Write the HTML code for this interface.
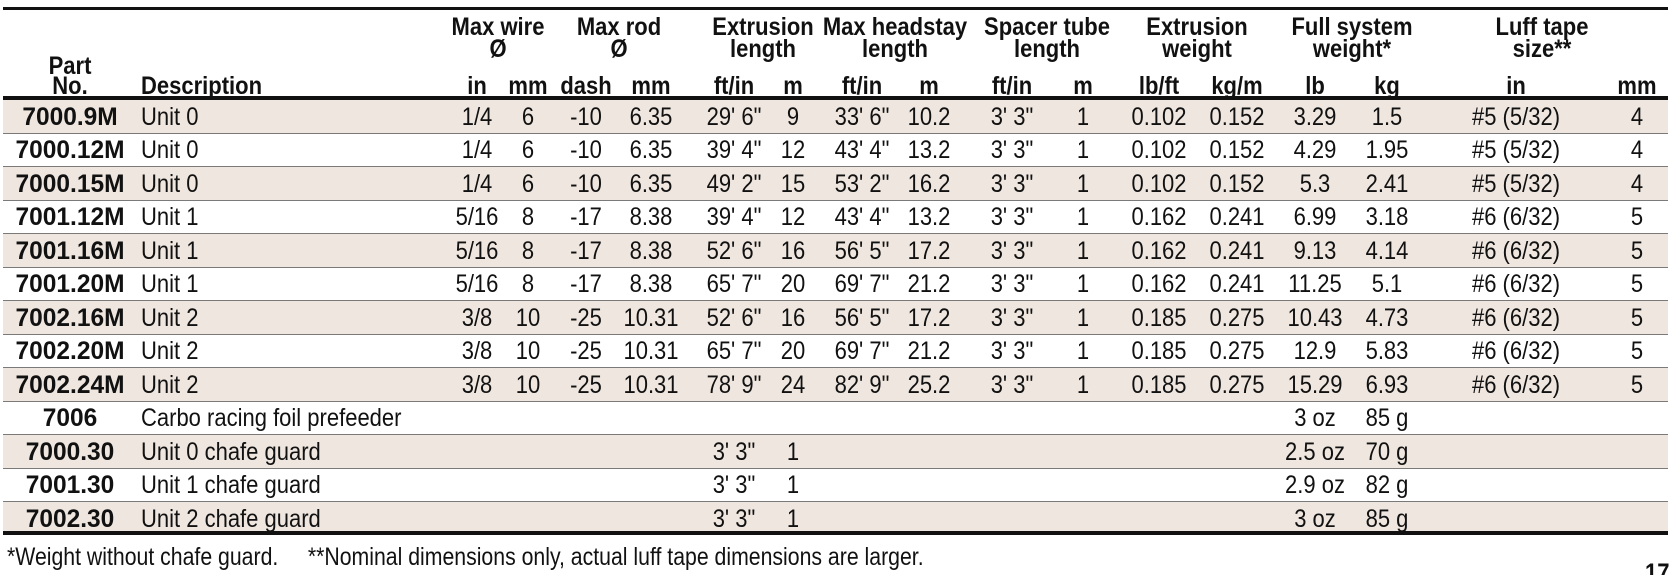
<!DOCTYPE html>
<html><head><meta charset="utf-8">
<style>
html,body{margin:0;padding:0;background:#fff;}
#wrap{position:relative;width:1680px;height:575px;overflow:hidden;font-family:"Liberation Sans Narrow","Liberation Sans",sans-serif;color:#111;}
.c{position:absolute;white-space:nowrap;font-size:25px;line-height:26px;transform:translate(-50%,-50%) scaleX(0.88);}
.l{position:absolute;white-space:nowrap;font-size:25px;line-height:26px;transform:translateY(-50%) scaleX(0.88);transform-origin:0 50%;}
.b{font-weight:bold;}
.pn{transform:translate(-50%,-50%) scaleX(0.98);}
.rule{position:absolute;left:3px;width:1665px;background:#111;}
.row{position:absolute;left:3px;width:1665px;box-sizing:border-box;}
</style></head>
<body>
<div id="wrap"></div>
<script>
const cols=[70,141,477,528,586,651,734,793,862,929,1012,1083,1159,1237,1315,1387,1516,1637];
const groupHeads=[["Max wire","Ø",498],["Max rod","Ø",619],["Extrusion","length",763],["Max headstay","length",895],["Spacer tube","length",1047],["Extrusion","weight",1197],["Full system","weight*",1352],["Luff tape","size**",1542]];
const units=["in","mm","dash","mm","ft/in","m","ft/in","m","ft/in","m","lb/ft","kg/m","lb","kg","in","mm"];
const rows=[
["7000.9M","Unit 0","1/4","6","-10","6.35","29' 6\"","9","33' 6\"","10.2","3' 3\"","1","0.102","0.152","3.29","1.5","#5 (5/32)","4"],
["7000.12M","Unit 0","1/4","6","-10","6.35","39' 4\"","12","43' 4\"","13.2","3' 3\"","1","0.102","0.152","4.29","1.95","#5 (5/32)","4"],
["7000.15M","Unit 0","1/4","6","-10","6.35","49' 2\"","15","53' 2\"","16.2","3' 3\"","1","0.102","0.152","5.3","2.41","#5 (5/32)","4"],
["7001.12M","Unit 1","5/16","8","-17","8.38","39' 4\"","12","43' 4\"","13.2","3' 3\"","1","0.162","0.241","6.99","3.18","#6 (6/32)","5"],
["7001.16M","Unit 1","5/16","8","-17","8.38","52' 6\"","16","56' 5\"","17.2","3' 3\"","1","0.162","0.241","9.13","4.14","#6 (6/32)","5"],
["7001.20M","Unit 1","5/16","8","-17","8.38","65' 7\"","20","69' 7\"","21.2","3' 3\"","1","0.162","0.241","11.25","5.1","#6 (6/32)","5"],
["7002.16M","Unit 2","3/8","10","-25","10.31","52' 6\"","16","56' 5\"","17.2","3' 3\"","1","0.185","0.275","10.43","4.73","#6 (6/32)","5"],
["7002.20M","Unit 2","3/8","10","-25","10.31","65' 7\"","20","69' 7\"","21.2","3' 3\"","1","0.185","0.275","12.9","5.83","#6 (6/32)","5"],
["7002.24M","Unit 2","3/8","10","-25","10.31","78' 9\"","24","82' 9\"","25.2","3' 3\"","1","0.185","0.275","15.29","6.93","#6 (6/32)","5"],
["7006","Carbo racing foil prefeeder","","","","","","","","","","","","","3 oz","85 g","",""],
["7000.30","Unit 0 chafe guard","","","","","3' 3\"","1","","","","","","","2.5 oz","70 g","",""],
["7001.30","Unit 1 chafe guard","","","","","3' 3\"","1","","","","","","","2.9 oz","82 g","",""],
["7002.30","Unit 2 chafe guard","","","","","3' 3\"","1","","","","","","","3 oz","85 g","",""]
];
const W=document.getElementById('wrap');
const top0=99, rh=33.5;
function add(cls,txt,x,y,name){const d=document.createElement('div');d.className=cls;d.textContent=txt;d.style.left=x+'px';d.style.top=y+'px';


W.appendChild(d);return d;}
rows.forEach((r,i)=>{
 const y0=top0+i*rh;
 const bg=document.createElement('div');bg.className='row';bg.style.top=y0+'px';bg.style.height=rh+'px';
 bg.style.background=(i%2==0)?'#efe6df':'#fff';
 if(i>0)bg.style.borderTop='1.5px solid #7a7a7a';
 
 
 W.appendChild(bg);
 const yc=y0+rh/2+1;
 r.forEach((v,j)=>{ if(!v)return;
  if(j==1)add('l',v,cols[j],yc,'description-cell');
  else add('c'+(j==0?' b pn':''),v,cols[j],yc,j==0?'part-number-cell':'value-cell');
 });
});
[[7,3],[96,3.5],[531,4]].forEach((a,k)=>{const d=document.createElement('div');d.className='rule';d.style.top=a[0]+'px';d.style.height=a[1]+'px';


W.appendChild(d);});
add('c b','Part',70,66,'part-header');
add('c b','No.',70,86,'part-header');
add('l b','Description',141,86,'description-header');
groupHeads.forEach(g=>{add('c b',g[0],g[2],27,'group-header');add('c b',g[1],g[2],49,'group-header');});
units.forEach((u,k)=>add('c b',u,cols[k+2],86,'unit-header'));
const fn=add('l','*Weight without chafe guard.     **Nominal dimensions only, actual luff tape dimensions are larger.',7,557,'footnote');
fn.style.whiteSpace='pre';
fn.style.transform='translateY(-50%) scaleX(0.85)';
add('l b','17',1645,573,'page-number');
</script>
</body></html>
